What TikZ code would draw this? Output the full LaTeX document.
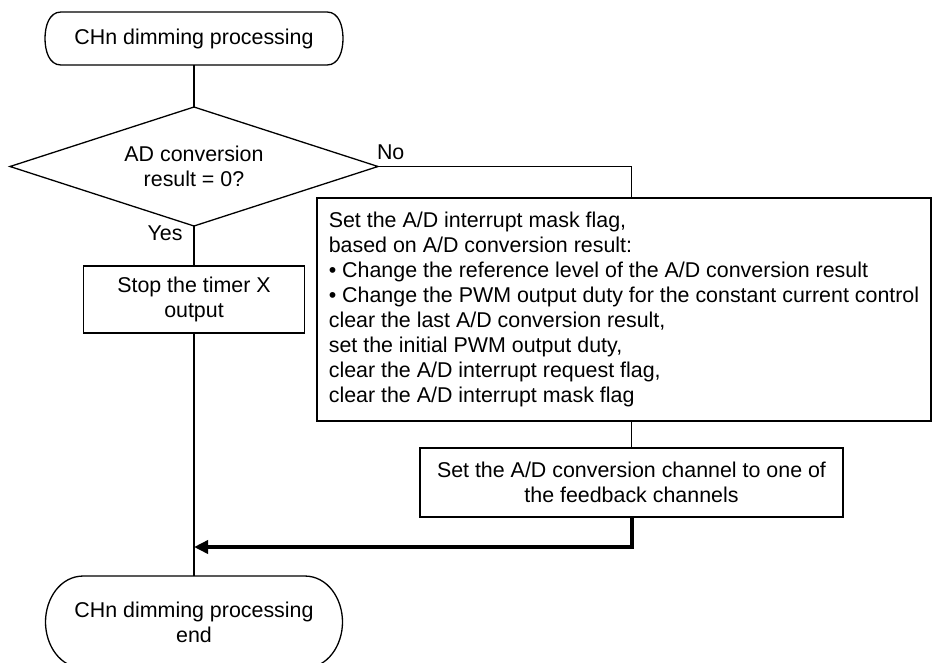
\documentclass[tikz,border=0pt]{standalone}
\usepackage{fontspec}
\setmainfont{Liberation Sans}
\usetikzlibrary{arrows.meta,shapes.geometric}
\newcommand\myterm[2]{%
  \draw[conn] ([xshift=#2]#1.north west) -- ([xshift=-#2]#1.north east)
    to[out=0,in=90] (#1.east) to[out=-90,in=0] ([xshift=-#2]#1.south east)
    -- ([xshift=#2]#1.south west) to[out=180,in=-90] (#1.west)
    to[out=90,in=180] cycle;}
\begin{document}
\begin{tikzpicture}[x=1pt,y=-1pt,
  every node/.style={font=\fontsize{21.4}{25}\selectfont, inner sep=0pt, outer sep=0pt},
  conn/.style={line width=1.3pt, line join=miter},
  proc/.style={draw, rectangle, line width=1.6pt},
  termnode/.style={rectangle},
  dec/.style={draw, diamond, aspect=3.1, line width=1.3pt, align=center},
  bigline/.style={line width=4pt, line join=miter}]
\useasboundingbox[fill=white] (0,0) rectangle (933,662);

% nodes
\node[termnode, minimum width=298pt, minimum height=53pt] (start) at (194,38.5) {CHn dimming processing};
\node[dec, minimum width=368pt, minimum height=119pt] (dia) at (194,166.5) {AD conversion\\result = 0?};
\node[proc, minimum width=221pt, minimum height=67pt, align=center] (stop) at (194,299.5) {Stop the timer X\\output};
\node[proc, minimum width=614pt, minimum height=223pt, align=left] (big) at (624,309.5) {Set the A/D interrupt mask flag,\\
based on A/D conversion result:\\
• Change the reference level of the A/D conversion result\\
• Change the PWM output duty for the constant current control\\
clear the last A/D conversion result,\\
set the initial PWM output duty,\\
clear the A/D interrupt request flag,\\
clear the A/D interrupt mask flag};
\node[proc, minimum width=423pt, minimum height=69pt, align=center] (chan) at (631.5,482.5) {Set the A/D conversion channel to one of\\the feedback channels};
\node[termnode, minimum width=297pt, minimum height=92pt, align=center] (end) at (194,622) {CHn dimming processing\\end};

% terminal outlines
\myterm{start}{16pt}
\myterm{end}{38pt}

% labels
\node[anchor=west] (no) at (377,152) {No};
\node (yes) at (165,233) {Yes};

% connectors
\coordinate (join) at (194,547);
\draw[conn] (start) -- (dia);
\draw[conn] (dia.east) -| (chan.center |- big.north);
\draw[conn] (big.south -| chan.north) -- (chan.north);
\draw[conn] (dia.south) -- (stop.north);
\draw[conn] (stop.south) -- (end.north);
\draw[bigline, -{Triangle[length=14pt,width=13pt]}] (chan.south) |- (join);
\end{tikzpicture}
\end{document}
